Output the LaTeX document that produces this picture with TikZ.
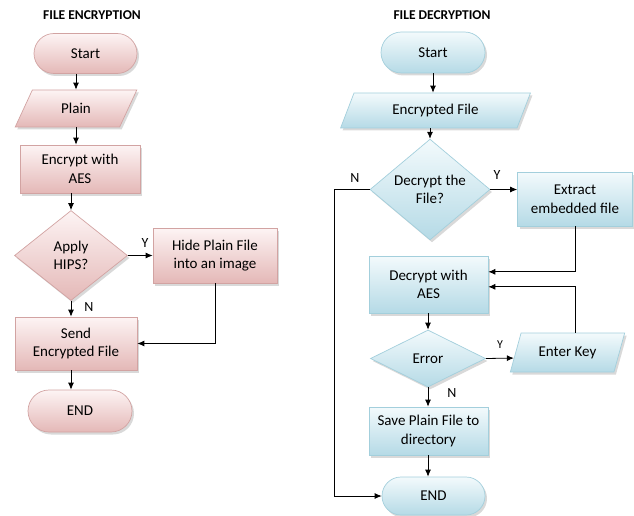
\documentclass[tikz,border=0pt]{standalone}
\usepackage{fontspec}
\setmainfont{Carlito}
\usetikzlibrary{shapes.geometric,shapes.misc,shadows,arrows.meta,calc}
\definecolor{pinktop}{HTML}{FDF4F4}
\definecolor{pinkbot}{HTML}{E4B8B7}
\definecolor{pinkline}{HTML}{D2A3A2}
\definecolor{bluetop}{HTML}{F3FAFC}
\definecolor{bluebot}{HTML}{B5DAE6}
\definecolor{blueline}{HTML}{A3CFDC}
\begin{document}
\begin{tikzpicture}[x=1pt,y=-1pt,
  base/.style={draw, line width=0.7pt, font=\fontsize{15}{18.5}\selectfont, align=center, inner sep=0pt,
    drop shadow={shadow xshift=2pt, shadow yshift=-2.5pt, opacity=0.3}},
  pinkbox/.style={base, draw=pinkline, top color=pinktop, bottom color=pinkbot},
  bluebox/.style={base, draw=blueline, top color=bluetop, bottom color=bluebot},
  term/.style={rounded rectangle},
  proc/.style={rectangle},
  io/.style={trapezium, trapezium left angle=61, trapezium right angle=119, trapezium stretches=true},
  dec/.style={diamond},
  arr/.style={-{Latex[length=7pt,width=6pt]}, line width=0.8pt},
  lab/.style={font=\fontsize{14}{14}\selectfont},
  ttl/.style={font=\bfseries\fontsize{13.5}{13.5}\selectfont}
]
\useasboundingbox (0,0) rectangle (634,516);
% ---- left: encryption ----
\node[ttl] (t1) at (92,15) {FILE ENCRYPTION};
\node[pinkbox,term,minimum width=103pt,minimum height=40pt] (s1) at (85.5,53.5) {Start};
\node[pinkbox,io,minimum width=122pt,minimum height=37pt] (p1) at (76,108.5) {Plain};
\node[pinkbox,proc,minimum width=120pt,minimum height=48pt] (e1) at (80,169) {Encrypt with\\AES};
\node[pinkbox,dec,minimum width=113pt,minimum height=90pt] (d1) at (71,255.5) {Apply\\HIPS?};
\node[pinkbox,proc,minimum width=124pt,minimum height=55pt] (h1) at (215,255.5) {Hide Plain File\\into an image};
\node[pinkbox,proc,minimum width=122pt,minimum height=53pt] (sd) at (76,343.5) {Send\\Encrypted File};
\node[pinkbox,term,minimum width=104pt,minimum height=42pt] (n1) at (80,411) {END};
\draw[arr] (s1.south -| p1.north) -- (p1.north);
\draw[arr] (p1.south) -- (p1.south |- e1.north);
\draw[arr] (e1.south -| d1.north) -- (d1.north);
\draw[arr] (d1.east) -- (h1.west);
\draw[arr] (d1.south) -- (d1.south |- sd.north);
\draw[arr] (h1.south) |- (sd.east);
\draw[arr] (sd.south -| d1.south) -- (n1.north -| d1.south);
\node[lab] (ly1) at (145,243) {Y};
\node[lab] (ln1) at (89,307) {N};
% ---- right: decryption ----
\node[ttl] (t2) at (442,15) {FILE DECRYPTION};
\node[bluebox,term,minimum width=104pt,minimum height=41pt] (s2) at (433,52.5) {Start};
\node[bluebox,io,minimum width=191pt,minimum height=35pt] (p2) at (435.5,110.5) {Encrypted File};
\node[bluebox,dec,minimum width=120pt,minimum height=85pt] (d2) at (430,189.5) {Decrypt the\\File?};
\node[bluebox,proc,minimum width=115pt,minimum height=54pt] (x2) at (575,199) {Extract\\embedded file};
\node[bluebox,proc,minimum width=119pt,minimum height=57pt] (a2) at (428.5,284.5) {Decrypt with\\AES};
\node[bluebox,dec,minimum width=115pt,minimum height=57pt] (d3) at (428,358.5) {Error};
\node[bluebox,io,minimum width=115pt,minimum height=39pt] (k2) at (567.5,352.5) {Enter Key};
\node[bluebox,proc,minimum width=119pt,minimum height=48pt] (v2) at (428.5,431) {Save Plain File to\\directory};
\node[bluebox,term,minimum width=103pt,minimum height=38pt] (n2) at (433.5,496) {END};
\draw[arr] (s2.south) -- (s2.south |- p2.north);
\draw[arr] (p2.south -| d2.north) -- (d2.north);
\draw[arr] (d2.east) -- (d2.east -| x2.west);
\draw[arr] (x2.south) |- ($(a2.north east)!0.28!(a2.south east)$);
\draw[arr] (d2.west) -- ++(-35,0) |- (n2.west);
\draw[arr] (a2.south -| d3.north) -- (d3.north);
\draw[arr] (d3.east) -- ($(k2.bottom left corner)!0.36!(k2.top left corner)$);
\draw[arr] (k2.north -| x2.south) |- ($(a2.north east)!0.54!(a2.south east)$);
\draw[arr] (v2.south -| d3.south) -- (n2.north -| d3.south);
\draw[arr] (d3.south) -- (d3.south |- v2.north);
\node[lab] (ln2) at (355,178) {N};
\node[lab] (ly2) at (497,175) {Y};
\node[lab,font=\fontsize{12}{12}\selectfont] (ly3) at (500,345) {Y};
\node[lab] (ln3) at (452,393) {N};
\end{tikzpicture}
\end{document}
